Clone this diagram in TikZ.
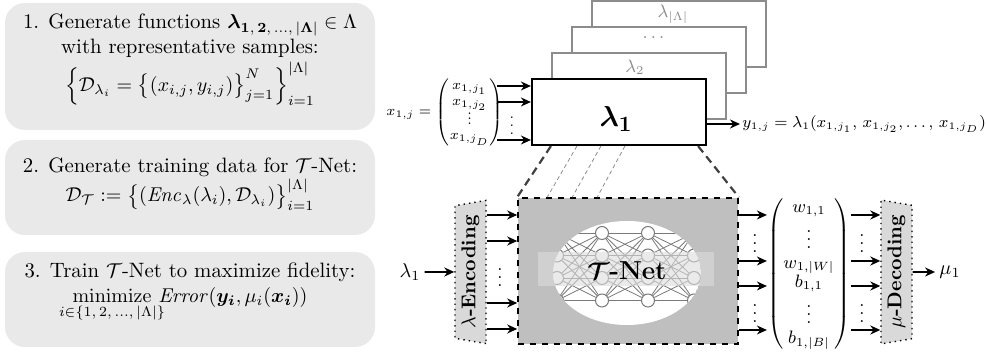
\documentclass[tikz,border=0pt]{standalone}
\usepackage{amsmath,amssymb,bm,mathtools}
\usetikzlibrary{arrows.meta,shapes.geometric}
\definecolor{panelgray}{HTML}{E9E9E9}
\definecolor{netgray}{HTML}{BFBFBF}
\definecolor{codegray}{HTML}{D9D9D9}
\definecolor{backline}{HTML}{8C8C8C}
\definecolor{edgegray}{HTML}{7A7A7A}
\definecolor{bandgray}{HTML}{DCDCDC}
\newcommand{\smallvdots}{\vbox{\baselineskip2.4pt\lineskiplimit0pt\kern1.5pt\hbox{.}\hbox{.}\hbox{.}}}
\tikzset{
 panel/.style={fill=panelgray, rounded corners=10pt, minimum width=185pt, inner sep=0pt},
 ptext/.style={align=center, font=\fontsize{10.4}{12.5}\selectfont, inner sep=0pt},
 backbox/.style={draw=backline, fill=white, line width=0.8pt, minimum width=87pt, minimum height=33pt, inner sep=0pt},
 frontbox/.style={draw=black, fill=white, line width=1.1pt, minimum width=87pt, minimum height=33pt, inner sep=0pt},
 backlabel/.style={text=backline, font=\small, inner sep=0pt},
 arr/.style={-{Stealth[length=5pt,width=4.5pt]}, line width=0.8pt},
 bigdash/.style={dash pattern=on 4pt off 2.5pt, line width=1.1pt, draw=black!75},
 thindash/.style={dash pattern=on 2pt off 1.5pt, line width=0.4pt, draw=black!45},
 coder/.style={trapezium, trapezium stretches=true, rotate=90, fill=codegray, draw=black, dotted, line width=0.7pt, minimum width=72pt, minimum height=15.5pt, inner sep=0pt, font=\bfseries},
 neuron/.style={circle, draw=edgegray, fill=white, line width=0.5pt, minimum size=6.5pt, inner sep=0pt},
 edge/.style={draw=edgegray, line width=0.4pt},
 vdot/.style={inner sep=0pt, font=\small},
}
\begin{document}
\begin{tikzpicture}[x=0.5pt,y=-0.5pt]
\useasboundingbox (0,0) rectangle (986,356);
% ---------- left panels ----------
\node[panel, minimum height=63.5pt] (p1) at (190,66.5) {};
\node[panel, minimum height=47.5pt] (p2) at (190,187.5) {};
\node[panel, minimum height=47.5pt] (p3) at (190,299.5) {};
\node[ptext] (t1) at (190,60) {1. Generate functions $\boldsymbol{\lambda}_{\mathbf{1,\,2,\,\dots,\,|\Lambda|}}\in\Lambda$\\ with representative samples:\\[1pt] $\Bigl\{\mathcal{D}_{\lambda_i}=\bigl\{(x_{i,j},y_{i,j})\bigr\}_{j=1}^{N}\Bigr\}_{i=1}^{|\Lambda|}$};
\node[ptext] (t2) at (190,184) {2. Generate training data for $\mathcal{T}$-Net:\\ $\mathcal{D}_{\mathcal{T}}:=\bigl\{(\mathit{Enc}_{\lambda}(\lambda_i),\mathcal{D}_{\lambda_i})\bigr\}_{i=1}^{|\Lambda|}$};
\node[ptext] (t3) at (190,292) {3. Train $\mathcal{T}$-Net to maximize fidelity:\\ $\underset{\mathclap{i\in\{1,\,2,\,\dots,\,|\Lambda|\}}}{\mathrm{minimize}}\ \mathit{Error}(\boldsymbol{y_i},\mu_i(\boldsymbol{x_i}))$};
% ---------- function stack ----------
\node[backbox] (bL) at (679,34) {};
\node[backbox] (bd) at (659,60) {};
\node[backbox] (b2) at (639,86) {};
\node[frontbox] (l1) at (619,112) {};
\node[backlabel] (lL) at (673,14) {$\lambda_{|\Lambda|}$};
\node[backlabel] (ld) at (655,38) {$\dots$};
\node[backlabel] (l2) at (635,67) {$\lambda_2$};
\node[inner sep=0pt, font=\fontsize{15}{17}\selectfont] (l1lab) at (616,119) {$\boldsymbol{\lambda_1}$};
% inputs
\node[font=\fontsize{7}{8}\selectfont, inner sep=0pt] (xv) at (445,112) {\renewcommand{\arraystretch}{0.95}$x_{1,j}=\begin{pmatrix}x_{1,j_1}\\x_{1,j_2}\\\smallvdots\\x_{1,j_D}\end{pmatrix}$};
\coordinate (in1) at (497,86);
\coordinate (in2) at (497,102);
\coordinate (in3) at (497,140);
\draw[arr] (in1) -- (in1 -| l1.west);
\draw[arr] (in2) -- (in2 -| l1.west);
\draw[arr] (in3) -- (in3 -| l1.west);
\node[vdot, font=\scriptsize] (xd) at (512,120) {$\vdots$};
% output
\coordinate (yo) at (740,124);
\draw[arr] (yo -| l1.east) -- (yo);
\node[anchor=west, inner sep=1pt, font=\fontsize{7.8}{9}\selectfont] (ylab) at (yo) {$y_{1,j}=\lambda_1(x_{1,j_1},\,x_{1,j_2},\ldots,\,x_{1,j_D})$};
% ---------- T-Net ----------
\node[draw=black, dashed, line width=0.8pt, fill=netgray, minimum width=110pt, minimum height=73pt, inner sep=0pt] (tnet) at (628,271) {};
\draw[bigdash] ([xshift=10pt]l1.south west) -- (tnet.north west);
\draw[bigdash] ([xshift=-4.5pt]l1.south east) -- (tnet.north east);
\draw[thindash] ([xshift=23pt]l1.south west) -- ([xshift=15pt]tnet.north west);
\draw[thindash] ([xshift=35pt]l1.south west) -- ([xshift=27.5pt]tnet.north west);
\draw[thindash] ([xshift=47pt]l1.south west) -- ([xshift=40pt]tnet.north west);
\begin{scope}
\clip (627,273) ellipse [x radius=37pt, y radius=26pt];
\fill[white] (627,273) ellipse [x radius=37pt, y radius=26pt];
\foreach \c/\xx in {1/557,2/602,3/648,4/694}{
  \foreach \r/\yy in {1/233,2/255.5,3/278,4/300.5}{
    \node[neuron] (u\c\r) at (\xx,\yy) {};
  }
}
\foreach \a/\b in {1/2,2/3,3/4}{
  \foreach \r in {1,...,4}{
    \foreach \s in {1,...,4}{
      \draw[edge] (u\a\r) -- (u\b\s);
    }
  }
}
\end{scope}
\fill[bandgray, opacity=0.6] (538,252) rectangle (714,286);
\node[font=\fontsize{13}{15}\selectfont, inner sep=0pt] (tlab) at (627,271) {$\boldsymbol{\mathcal{T}}$\textbf{-Net}};
% ---------- encoding ----------
\node[inner sep=2pt] (lin) at (410,272) {$\lambda_1$};
\node[coder, trapezium left angle=76, trapezium right angle=76] (enc) at (470.5,272) {$\lambda$-Encoding};
\draw[arr] (lin) -- (enc.north);
\foreach \yy in {215,241,303,329}{
  \coordinate (e\yy) at (0,\yy);
  \draw[arr] (enc.south |- e\yy) -- (tnet.west |- e\yy);
}
\node[vdot] (d1) at (500,272) {$\vdots$};
% ---------- weights ----------
\node[font=\small, inner sep=0pt] (wvec) at (809,274) {\renewcommand{\arraystretch}{0.9}$\begin{pmatrix}w_{1,1}\\\vdots\\w_{1,|W|}\\b_{1,1}\\\vdots\\b_{1,|B|}\end{pmatrix}$};
\node[coder, trapezium left angle=104, trapezium right angle=104] (dec) at (896.5,272) {$\mu$-Decoding};
\foreach \yy in {215,261,286,330}{
  \coordinate (o\yy) at (0,\yy);
  \draw[arr] (tnet.east |- o\yy) -- (wvec.west |- o\yy);
  \draw[arr] (wvec.east |- o\yy) -- (dec.north |- o\yy);
}
\node[vdot] (d2) at (755,238) {$\vdots$};
\node[vdot] (d3) at (755,308) {$\vdots$};
\node[vdot] (d4) at (862,238) {$\vdots$};
\node[vdot] (d5) at (862,308) {$\vdots$};
\node[inner sep=2pt] (mu) at (950,272) {$\mu_1$};
\draw[arr] (dec.south) -- (mu.west);
\end{tikzpicture}
\end{document}
